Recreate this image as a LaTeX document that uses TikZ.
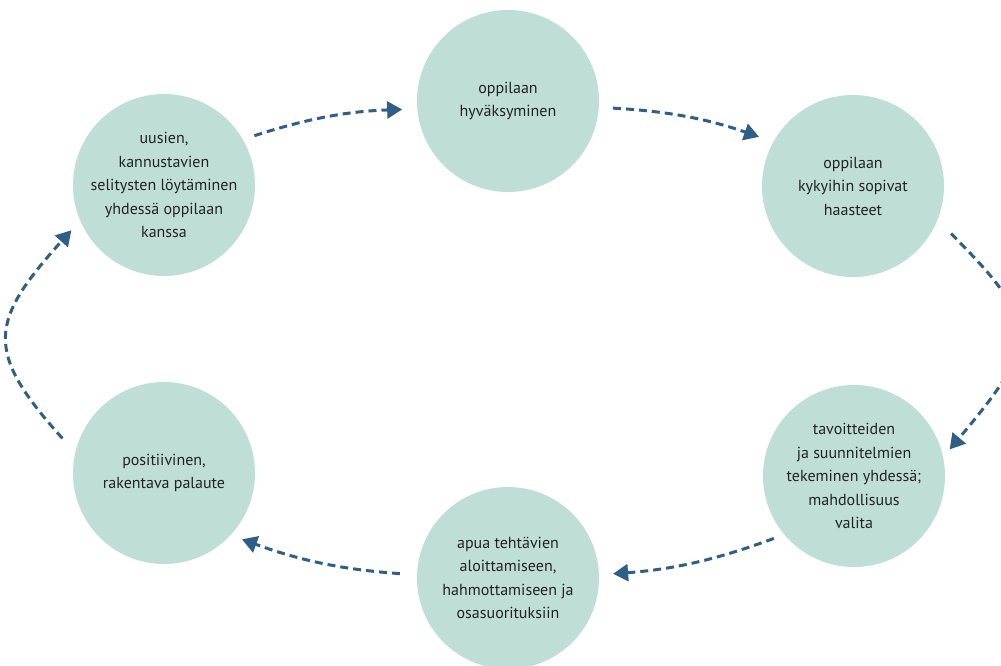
\documentclass[tikz,border=0pt]{standalone}
\usepackage{fontspec}
\setmainfont{PT Sans}
\usepackage{tikz}
\usetikzlibrary{arrows.meta}

\definecolor{mint}{HTML}{BFDFD6}
\definecolor{arrowblue}{HTML}{2F5F86}
\definecolor{inktext}{HTML}{222222}

\begin{document}
\begin{tikzpicture}[x=1pt,y=1pt]
	\tikzstyle{vertex}=[circle,fill=mint,minimum size=182pt,inner sep=0pt,align=center,text=inktext,font=\fontsize{16}{23.5}\selectfont]
	\tikzstyle{cycle}=[draw=arrowblue,line width=3pt,dash pattern=on 8pt off 5pt,-{Triangle[length=15pt,width=17pt]}]
	\useasboundingbox (0,0) rectangle (1001,-666);
	\clip (0,0) rectangle (1001,-666);
	\node[vertex] (hyvaks) at (508,-101) {oppilaan\\hyväksyminen};
	\node[vertex] (haasteet) at (853,-186) {oppilaan\\kykyihin sopivat\\haasteet};
	\node[vertex] (tavoitteet) at (854,-476) {tavoitteiden\\ja suunnitelmien\\tekeminen yhdessä;\\mahdollisuus\\valita};
	\node[vertex] (apua) at (508,-578) {apua tehtävien\\aloittamiseen,\\hahmottamiseen ja\\osasuorituksiin};
	\node[vertex] (palaute) at (164,-473) {positiivinen,\\rakentava palaute};
	\node[vertex] (selitys) at (164,-185) {uusien,\\kannustavien\\selitysten löytäminen\\yhdessä oppilaan\\kanssa};
	\draw[cycle,shorten <=12pt,shorten >=15pt] (selitys.30) to[bend left=8] (hyvaks.185);
	\draw[cycle,shorten <=14pt,shorten >=15pt] (hyvaks.-4) to[bend left=8] (haasteet.151);
	\draw[cycle,shorten <=19pt,shorten >=10pt] (haasteet.-22) to[out=-45,in=50,looseness=1.6] (tavoitteet.12);
	\draw[cycle,shorten <=11pt,shorten >=14pt] (tavoitteet.220) to[bend left=8] (apua.2);
	\draw[cycle,shorten <=17pt,shorten >=12pt] (apua.178) to[bend left=8] (palaute.-43);
	\draw[cycle,shorten <=19pt,shorten >=13pt] (palaute.167) to[out=132,in=-132,looseness=1.5] (selitys.203);
\end{tikzpicture}
\end{document}
